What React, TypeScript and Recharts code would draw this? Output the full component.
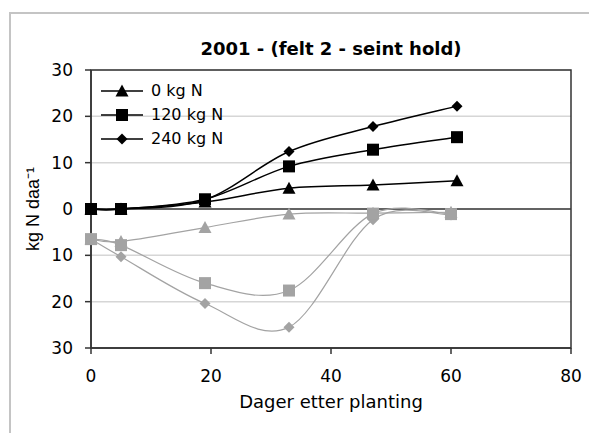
import React from "react";
import {
  LineChart,
  Line,
  XAxis,
  YAxis,
  CartesianGrid,
  Legend,
  ReferenceLine,
  ReferenceArea,
} from "recharts";

// Sampling days after planting
const days = [0, 5, 19, 33, 47, 61];
const lossDays = [0, 5, 19, 33, 47, 60];

// Mineralised N (positive, black) per fertiliser level
const n0 = [0, 0, 1.5, 4.5, 5.2, 6.1];
const n120 = [0, 0, 2.1, 9.2, 12.8, 15.5];
const n240 = [0, 0, 2.0, 12.4, 17.8, 22.2];

// Soil mineral N drawn below zero (grey)
const n0Loss = [-6.5, -7.0, -4.0, -1.1, -0.9, -0.7];
const n120Loss = [-6.5, -7.8, -16.0, -17.6, -1.0, -1.1];
const n240Loss = [-6.5, -10.3, -20.4, -25.5, -2.3, -1.3];

const xTicks = [0, 20, 40, 60, 80];
const yTicks = [-30, -20, -10, 0, 10, 20, 30];

const legendItems = [
  { label: "0 kg N", shape: "triangle" },
  { label: "120 kg N", shape: "square" },
  { label: "240 kg N", shape: "diamond" },
];

const FONT = "'DejaVu Sans', Verdana, sans-serif";
const BLACK = "#000000";
const GREY = "#a3a3a3";

const toPoints = (xs: number[], ys: number[]) => xs.map((x, i) => ({ x, y: ys[i] }));

// Excel-style smoothed line (uniform Catmull-Rom through every point)
const smoothCurve = (context: any) => {
  let xs: number[] = [];
  let ys: number[] = [];
  return {
    areaStart() {},
    areaEnd() {},
    lineStart() {
      xs = [];
      ys = [];
    },
    point(x: number, y: number) {
      xs.push(+x);
      ys.push(+y);
    },
    lineEnd() {
      const n = xs.length;
      if (!n) return;
      context.moveTo(xs[0], ys[0]);
      for (let i = 0; i < n - 1; i++) {
        const a = Math.max(i - 1, 0);
        const d = Math.min(i + 2, n - 1);
        const c1x = xs[i] + (xs[i + 1] - xs[a]) / 6;
        const c1y = ys[i] + (ys[i + 1] - ys[a]) / 6;
        const c2x = xs[i + 1] - (xs[d] - xs[i]) / 6;
        const c2y = ys[i + 1] - (ys[d] - ys[i]) / 6;
        context.bezierCurveTo(c1x, c1y, c2x, c2y, xs[i + 1], ys[i + 1]);
      }
    },
  };
};

function Marker({ cx, cy, shape, color }: { cx: number; cy: number; shape: string; color: string }) {
  if (cx == null || cy == null) return null;
  if (shape === "triangle") {
    return <polygon points={`${cx},${cy - 6.5} ${cx + 6.5},${cy + 5.5} ${cx - 6.5},${cy + 5.5}`} fill={color} />;
  }
  if (shape === "square") {
    return <rect x={cx - 6} y={cy - 6} width={12} height={12} fill={color} />;
  }
  return <polygon points={`${cx},${cy - 5.5} ${cx + 5.5},${cy} ${cx},${cy + 5.5} ${cx - 5.5},${cy}`} fill={color} />;
}

const dotFor = (shape: string, color: string) => (props: any) =>
  <Marker key={`${shape}-${color}-${props.index}`} cx={props.cx} cy={props.cy} shape={shape} color={color} />;

function LegendBox() {
  return (
    <div style={{ fontFamily: FONT, fontSize: 16, color: "#000" }}>
      {legendItems.map((item) => (
        <div key={item.label} style={{ display: "flex", alignItems: "center", height: 24 }}>
          <svg width={44} height={16} style={{ display: "block" }}>
            <line x1={1} y1={8} x2={43} y2={8} stroke={BLACK} strokeWidth={1.5} />
            <Marker cx={22} cy={8} shape={item.shape} color={BLACK} />
          </svg>
          <span style={{ marginLeft: 7, lineHeight: "16px" }}>{item.label}</span>
        </div>
      ))}
    </div>
  );
}

const series = [
  { name: "0 kg N tap", xs: lossDays, ys: n0Loss, shape: "triangle", color: GREY, width: 1.2 },
  { name: "240 kg N tap", xs: lossDays, ys: n240Loss, shape: "diamond", color: GREY, width: 1.2 },
  { name: "120 kg N tap", xs: lossDays, ys: n120Loss, shape: "square", color: GREY, width: 1.2 },
  { name: "0 kg N", xs: days, ys: n0, shape: "triangle", color: BLACK, width: 1.5 },
  { name: "240 kg N", xs: days, ys: n240, shape: "diamond", color: BLACK, width: 1.5 },
  { name: "120 kg N", xs: days, ys: n120, shape: "square", color: BLACK, width: 1.5 },
];

export default function App() {
  return (
    <div
      style={{
        position: "absolute",
        left: 0,
        top: 0,
        width: 589,
        height: 433,
        background: "#fff",
        overflow: "hidden",
      }}
    >
      <div
        style={{
          position: "absolute",
          left: 9,
          top: 12,
          width: 620,
          height: 460,
          border: "2px solid #c4c4c4",
        }}
      />
      <div
        style={{
          position: "absolute",
          left: 0,
          top: 38,
          width: 662,
          textAlign: "center",
          fontFamily: FONT,
          fontWeight: "bold",
          fontSize: 18,
          lineHeight: "22px",
        }}
      >
        2001 - (felt 2 - seint hold)
      </div>
      <div style={{ position: "absolute", left: 0, top: 0 }}>
        <LineChart width={589} height={433} margin={{ top: 70, right: 18, bottom: 25, left: 31 }}>
          <CartesianGrid horizontal vertical={false} stroke="#d6d6d6" strokeWidth={1.5} />
          <ReferenceArea x1={0} x2={80} y1={-30} y2={30} fill="none" stroke="#333" strokeWidth={1.5} />
          <ReferenceLine y={0} stroke="#3a3a3a" strokeWidth={1.5} />
          <XAxis
            type="number"
            dataKey="x"
            domain={[0, 80]}
            ticks={xTicks}
            allowDuplicatedCategory={false}
            height={60}
            stroke="#333"
            strokeWidth={1.5}
            tickSize={6}
            tickMargin={16}
            tick={{ fill: "#000", fontSize: 17, fontFamily: FONT }}
            label={{
              value: "Dager etter planting",
              position: "insideBottom",
              offset: 0,
              style: { fill: "#000", fontSize: 18, fontFamily: FONT },
            }}
          />
          <YAxis
            type="number"
            domain={[-30, 30]}
            ticks={yTicks}
            width={60}
            stroke="#333"
            strokeWidth={1.5}
            tickSize={6}
            tickMargin={12}
            tickFormatter={(v) => `${Math.abs(v)}`}
            tick={{ fill: "#000", fontSize: 17, fontFamily: FONT }}
            label={{
              value: "kg N daa⁻¹",
              angle: -90,
              position: "insideLeft",
              offset: 2,
              style: { fill: "#000", fontSize: 18, fontFamily: "'Liberation Sans', Arial, sans-serif", textAnchor: "middle" },
            }}
          />
          <Legend
            layout="horizontal"
            verticalAlign="middle"
            align="center"
            content={() => <LegendBox />}
            wrapperStyle={{ left: 100, top: 79, width: "auto", height: "auto" }}
          />
          {series.map((s) => (
            <Line
              key={s.name}
              name={s.name}
              data={toPoints(s.xs, s.ys)}
              dataKey="y"
              type={smoothCurve as any}
              stroke={s.color}
              strokeWidth={s.width}
              dot={dotFor(s.shape, s.color)}
              activeDot={false}
              legendType="none"
              isAnimationActive={false}
            />
          ))}
        </LineChart>
      </div>
    </div>
  );
}
